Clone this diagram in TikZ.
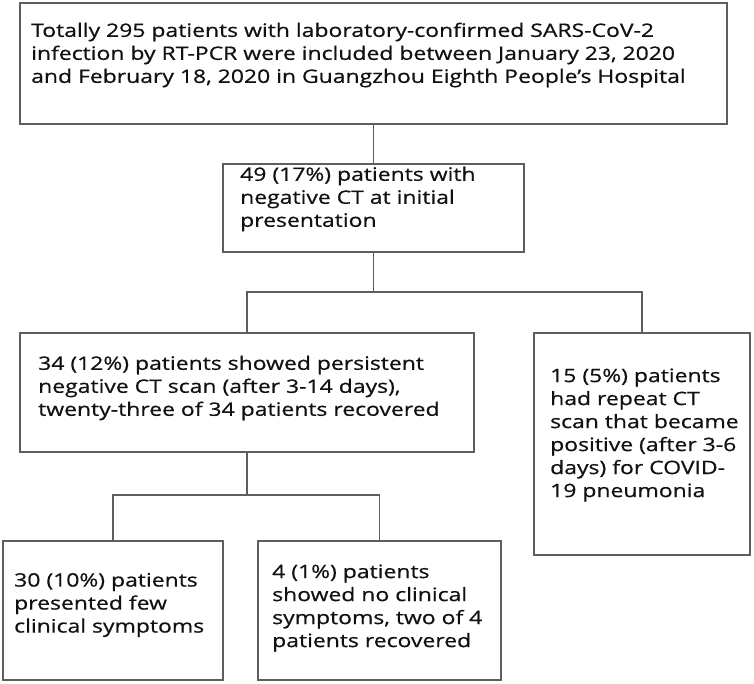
\documentclass[tikz,border=0pt]{standalone}
\usepackage{fontspec}
\setmainfont{Open Sans}[FakeStretch=1.24,FakeBold=0.6]
\definecolor{linegray}{HTML}{5E5E5E}
\definecolor{txt}{HTML}{111111}
\begin{document}
\begin{tikzpicture}[x=1pt,y=-1pt,
  boxstyle/.style={draw=linegray, line width=1.4pt, rectangle, inner sep=0pt},
  txtstyle/.style={anchor=west, align=left, inner sep=0pt, text=txt,
    font=\fontsize{18.5}{23}\selectfont},
  conn/.style={draw=linegray, line width=1.4pt}]
\useasboundingbox (0,0) rectangle (754,684);
\fill[white] (0,0) rectangle (754,684);
% boxes
\node[boxstyle, minimum width=707pt, minimum height=121pt] (b1) at (373.5,63.5) {};
\node[boxstyle, minimum width=301pt, minimum height=88pt] (b2) at (373.5,208) {};
\node[boxstyle, minimum width=454pt, minimum height=119pt] (b3) at (247,392.5) {};
\node[boxstyle, minimum width=216pt, minimum height=222pt] (b4) at (642,444) {};
\node[boxstyle, minimum width=220pt, minimum height=139pt] (b5) at (113,610.5) {};
\node[boxstyle, minimum width=243pt, minimum height=139pt] (b6) at (379.5,610.5) {};
% texts
\node[txtstyle] (t1) at (31,55) {Totally 295 patients with laboratory-confirmed SARS-CoV-2\\infection by RT-PCR were included between January 23, 2020\\and February 18, 2020 in Guangzhou Eighth People’s Hospital};
\node[txtstyle] (t2) at (240,199) {49 (17\%) patients with\\negative CT at initial\\presentation};
\node[txtstyle] (t3) at (38,388) {34 (12\%) patients showed persistent\\negative CT scan (after 3-14 days),\\twenty-three of 34 patients recovered};
\node[txtstyle] (t4) at (550,435) {15 (5\%) patients\\had repeat CT\\scan that became\\positive (after 3-6\\days) for COVID-\\19 pneumonia};
\node[txtstyle] (t5) at (14,605) {30 (10\%) patients\\presented few\\clinical symptoms};
\node[txtstyle] (t6) at (272,608) {4 (1\%) patients\\showed no clinical\\symptoms, two of 4\\patients recovered};
% connectors
\coordinate (j1) at (b2.south |- 0,292);
\coordinate (j2) at (b3.south |- 0,495);
\draw[conn] (b1.south -| b2.north) -- (b2.north);
\draw[conn] (b2.south) -- (j1);
\draw[conn] (b3.north) -- (b3.north |- j1) -- (b4.north |- j1) -- (b4.north);
\draw[conn] (b3.south) -- (j2);
\draw[conn] (b5.north) -- (b5.north |- j2) -- (b6.north |- j2) -- (b6.north);
\end{tikzpicture}
\end{document}
